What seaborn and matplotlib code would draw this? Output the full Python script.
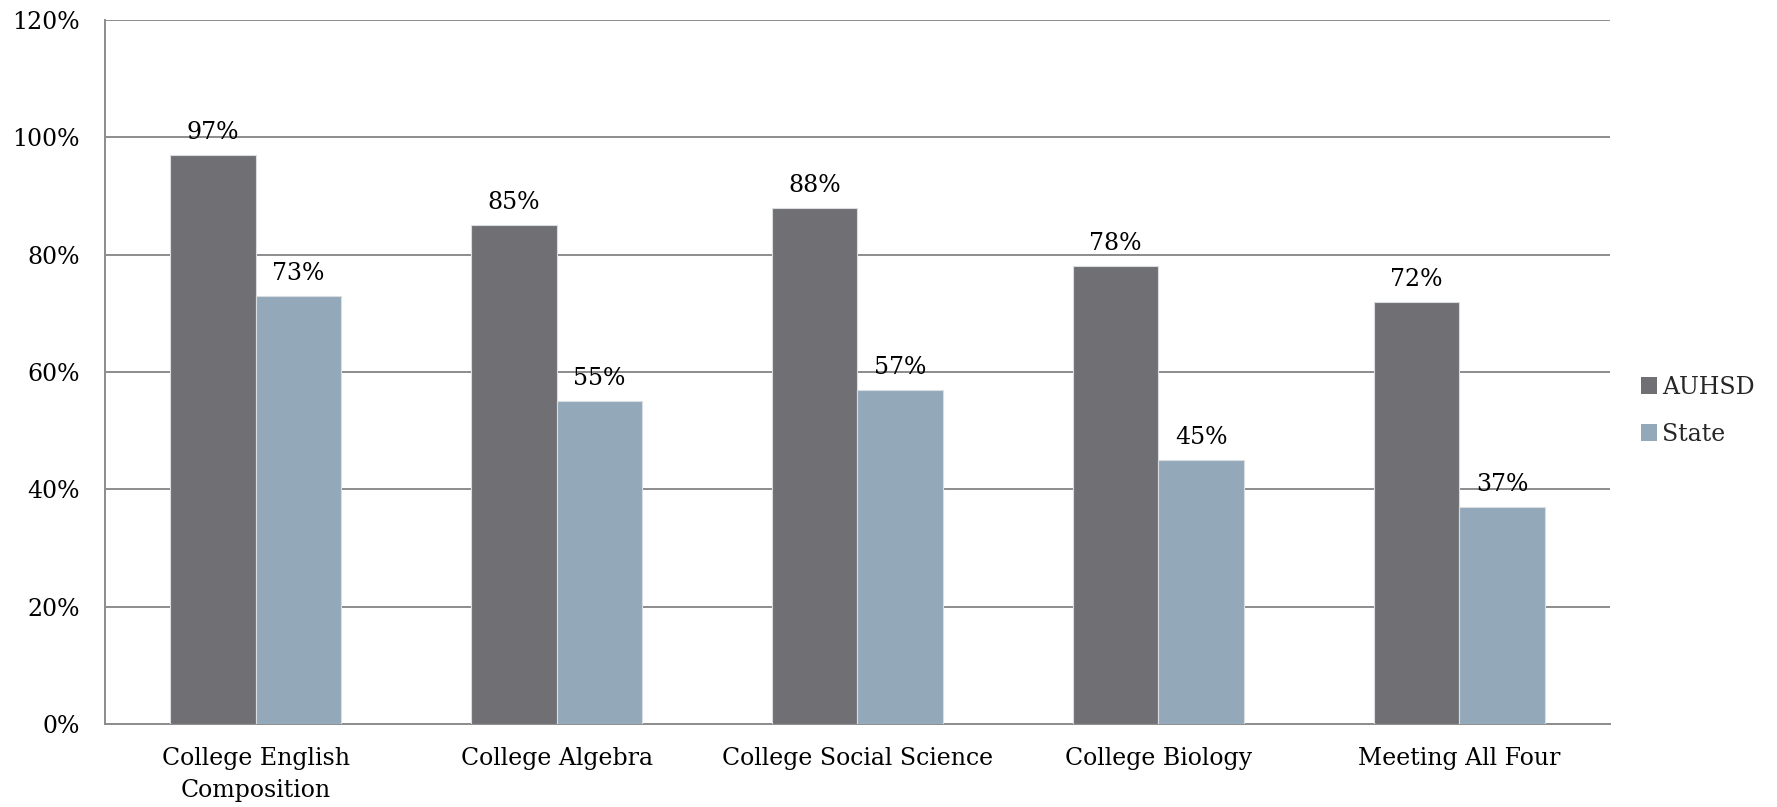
import matplotlib
matplotlib.use("Agg")
import matplotlib.pyplot as plt
import seaborn as sns
import pandas as pd
from matplotlib.ticker import FuncFormatter, FixedLocator
from matplotlib.patches import Patch

categories = ["College English\nComposition", "College Algebra", "College Social Science",
              "College Biology", "Meeting All Four"]
series_names = ["AUHSD", "State"]
auhsd = [97, 85, 88, 78, 72]
state = [73, 55, 57, 45, 37]
y_ticks = [0, 20, 40, 60, 80, 100, 120]
colors = {"AUHSD": "#706f74", "State": "#93a9b9"}

df = pd.DataFrame({
    "category": categories * 2,
    "series": ["AUHSD"] * len(categories) + ["State"] * len(categories),
    "value": auhsd + state,
})

FS = 17

sns.set_style("white")
plt.rcParams["font.family"] = ["DejaVu Serif"]
fig = plt.figure(figsize=(17.77, 8.07), dpi=100)
ax = fig.add_axes([0.0591, 0.103, 0.906 - 0.0591, 0.975 - 0.103])

sns.barplot(data=df, x="category", y="value", hue="series", order=categories,
            hue_order=series_names, palette=colors, saturation=1, width=0.57,
            edgecolor="#d9dde2", linewidth=0.8, ax=ax, legend=False, zorder=3)

ax.set_ylim(0, 120)
ax.set_xlim(-0.5, len(categories) - 0.5)
ax.yaxis.set_major_locator(FixedLocator(y_ticks))
ax.yaxis.set_major_formatter(FuncFormatter(lambda v, p: f"{int(v)}%"))
ax.yaxis.grid(True, color="#8c8c8c", linewidth=1.4, zorder=0)
ax.set_axisbelow(True)
ax.set_xlabel("")
ax.set_ylabel("")

for s in ["top", "right"]:
    ax.spines[s].set_visible(False)
for s in ["left", "bottom"]:
    ax.spines[s].set_color("#8c8c8c")
    ax.spines[s].set_linewidth(1.4)

ax.tick_params(axis="y", which="major", length=7, width=1.4, color="#8c8c8c",
               labelsize=FS, pad=11, labelcolor="black")
ax.tick_params(axis="x", which="major", length=0, labelsize=FS, pad=17, labelcolor="black")
ax.set_xticks([i - 0.5 for i in range(len(categories) + 1)], minor=True)
ax.tick_params(axis="x", which="minor", length=8, width=1.4, color="#8c8c8c", direction="out")
for lbl in ax.get_xticklabels():
    lbl.set_multialignment("center")
    lbl.set_linespacing(1.45)

for cont in ax.containers:
    ax.bar_label(cont, labels=[f"{int(round(b.get_height()))}%" for b in cont],
                 padding=8, fontsize=FS, color="black")

handles = [Patch(facecolor=colors[n], edgecolor="none", label=n) for n in series_names]
fig.legend(handles=handles, loc="center left", bbox_to_anchor=(0.918, 0.491),
           frameon=False, fontsize=FS, handlelength=0.7, handleheight=0.7,
           handletextpad=0.2, labelspacing=1.0, borderaxespad=0)

fig.savefig("out.png", dpi=100)
